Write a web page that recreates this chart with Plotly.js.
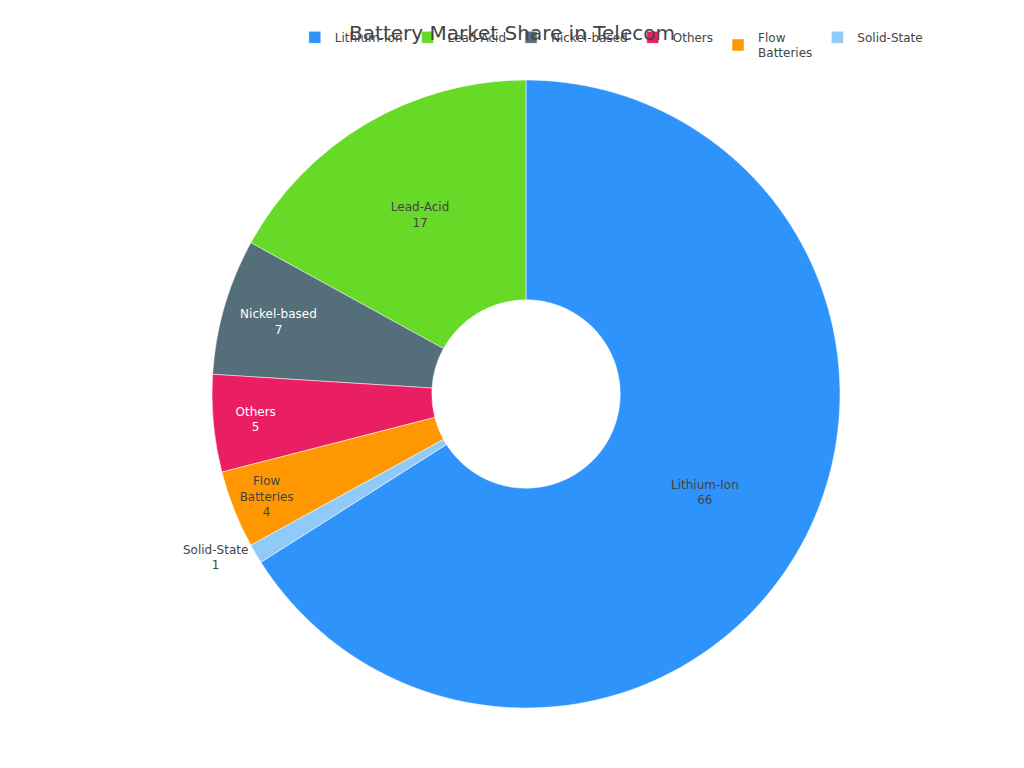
<!DOCTYPE html>
<html>
<head>
<meta charset="utf-8">
<script src="https://cdn.plot.ly/plotly-3.0.1.min.js"></script>
<style>html,body{margin:0;padding:0;background:#fff;}#chart{width:1024px;height:768px;}</style>
</head>
<body>
<div id="chart"></div>
<script>
var categories = ["Lithium-Ion", "Lead-Acid", "Nickel-based", "Others", "Flow<br>Batteries", "Solid-State"];
var shares = [66, 17, 7, 5, 4, 1];
var sliceColors = ["#2E93FA", "#66DA26", "#546E7A", "#E91E63", "#FF9800", "#90CAF9"];
var labelPlacement = ["inside", "inside", "inside", "inside", "inside", "outside"];

var trace = {
  type: "pie",
  labels: categories,
  values: shares,
  hole: 0.3,
  textinfo: "label+value",
  textposition: labelPlacement,
  insidetextorientation: "horizontal",
  marker: {colors: sliceColors, line: {color: "#ffffff", width: 0.5}},
  textfont: {family: "DejaVu Sans", size: 12},
  hoverinfo: "label+value+percent"
};

var layout = {
  width: 1024,
  height: 768,
  font: {family: "DejaVu Sans", size: 12, color: "#444"},
  title: {text: "Battery Market Share in Telecom", font: {family: "DejaVu Sans", size: 20, color: "#444"}, x: 0.5, xanchor: "center", y: 0.957, yanchor: "middle"},
  margin: {l: 80, r: 52, t: 80, b: 60},
  showlegend: true,
  legend: {orientation: "h", x: 0.2408, xanchor: "left", y: 1.091, yanchor: "top", font: {family: "DejaVu Sans", size: 12, color: "#444"}},
  paper_bgcolor: "#ffffff",
  plot_bgcolor: "#ffffff"
};

Plotly.newPlot("chart", [trace], layout, {displayModeBar: false});
</script>
</body>
</html>
